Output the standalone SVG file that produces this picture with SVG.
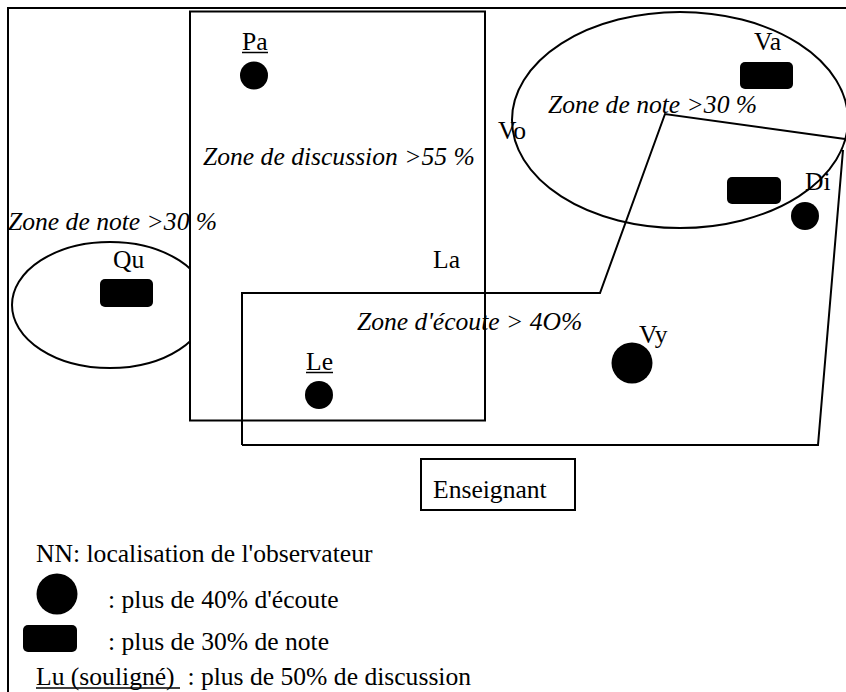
<svg xmlns="http://www.w3.org/2000/svg" width="846" height="692" viewBox="0 0 846 692">
<style>
.ln{fill:none;stroke:#000;stroke-width:2}
.t{font-family:"Liberation Serif","Times New Roman",serif;font-size:25.6px;fill:#000}
.i{font-style:italic}
.dot{fill:#000}
.ul{stroke:#000;stroke-width:1.5}
</style>
<rect width="846" height="692" fill="#fff"/>
<g id="frame"><rect class="ln" x="8" y="8" width="900" height="800"/></g>
<g id="zone-note-left"><ellipse class="ln" cx="110" cy="305" rx="98" ry="63"/></g>
<g id="zone-discussion"><rect x="190" y="11.5" width="295" height="409" fill="#fff" stroke="#000" stroke-width="2"/></g>
<g id="zone-note-right"><ellipse class="ln" cx="680" cy="120" rx="168" ry="108"/></g>
<g id="zone-ecoute"><polyline class="ln" points="242,445 242,293 600,293 665,114 845,139"/><polyline class="ln" points="843,150 818,445 242,445"/></g>
<g id="enseignant"><rect class="ln" x="421" y="459" width="154" height="51"/><text class="t" x="433" y="498">Enseignant</text></g>
<g id="Pa"><text class="t" x="242" y="50">Pa</text><line class="ul" x1="242" y1="52.5" x2="268" y2="52.5"/><circle class="dot" cx="254" cy="75.5" r="14"/></g>
<g id="Qu"><text class="t" x="113" y="268">Qu</text><rect class="dot" x="100" y="279" width="53" height="28" rx="5"/></g>
<g id="La"><text class="t" x="433" y="268">La</text></g>
<g id="Le"><text class="t" x="306" y="370">Le</text><line class="ul" x1="306" y1="372.5" x2="333" y2="372.5"/><circle class="dot" cx="319" cy="395" r="14"/></g>
<g id="Vy"><text class="t" x="639" y="343">Vy</text><circle class="dot" cx="632" cy="363" r="20.5"/></g>
<g id="Va"><text class="t" x="754" y="50">Va</text><rect class="dot" x="740" y="62" width="53" height="27" rx="5"/></g>
<g id="Vo"><text class="t" x="498" y="139">Vo</text></g>
<g id="Di"><text class="t" x="805" y="190">Di</text><rect class="dot" x="727" y="177" width="54" height="27" rx="5"/><circle class="dot" cx="805" cy="216" r="14"/></g>
<g id="zone-labels">
<text class="t i" x="203" y="165">Zone de discussion &gt;55 %</text>
<text class="t i" x="8" y="230">Zone de note &gt;30 %</text>
<text class="t i" x="548" y="113">Zone de note &gt;30 %</text>
<text class="t i" x="357" y="330">Zone d'écoute &gt; 4O%</text>
</g>
<g id="legend">
<text class="t" x="36" y="562">NN: localisation de l'observateur</text>
<circle class="dot" cx="57" cy="594" r="20.5"/>
<text class="t" x="108" y="608">: plus de 40% d'écoute</text>
<rect class="dot" x="23" y="625" width="54" height="27" rx="5"/>
<text class="t" x="108" y="650">: plus de 30% de note</text>
<text class="t" x="36" y="685" xml:space="preserve">Lu (souligné)  : plus de 50% de discussion</text>
<line class="ul" x1="36" y1="688" x2="180" y2="688"/>
</g>
</svg>
